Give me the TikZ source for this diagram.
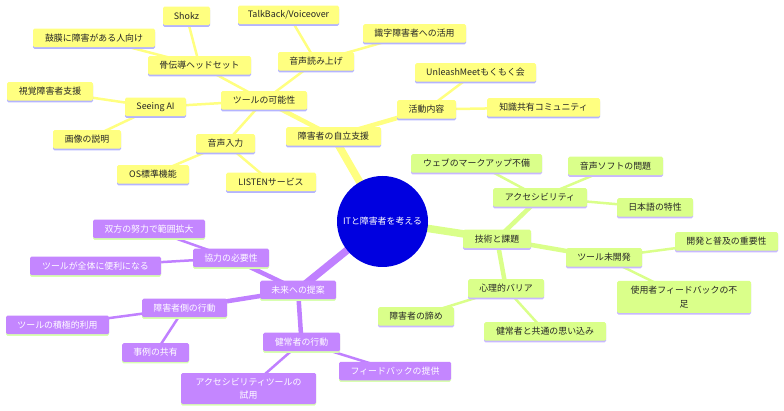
\documentclass[tikz,border=0pt]{standalone}
\usepackage{fontspec}
\setmainfont{Noto Sans CJK JP}
\usetikzlibrary{shadows,backgrounds}
\definecolor{yfill}{HTML}{FFFF80}
\definecolor{yshad}{HTML}{B4B4FF}
\definecolor{gfill}{HTML}{DAFF8A}
\definecolor{gshad}{HTML}{C8B8FF}
\definecolor{pfill}{HTML}{C486FF}
\definecolor{pshad}{HTML}{D8FFB0}
\definecolor{cblue}{HTML}{0000E0}
\definecolor{yedge}{HTML}{FFFF80}
\definecolor{gedge}{HTML}{DAFF8A}
\definecolor{pedge}{HTML}{C080FF}
\tikzset{
 mnode/.style={rounded corners=1.5pt, inner sep=0pt, minimum height=18.5pt,
   font=\fontsize{8.9}{13.3}\selectfont, align=center},
 ybox/.style={mnode, fill=yfill, text=black!85, general shadow={fill=yshad, shadow yshift=-1.6pt}},
 gbox/.style={mnode, fill=gfill, text=black!85, general shadow={fill=gshad, shadow yshift=-1.6pt}},
 pbox/.style={mnode, fill=pfill, text=white, general shadow={fill=pshad, shadow yshift=-1.6pt}},
 hub/.style={circle, fill=cblue, text=white, minimum size=91pt, inner sep=0pt,
   font=\fontsize{8.9}{10}\selectfont},
 e1/.style={line width=7.5pt},
 e2/.style={line width=4.5pt},
 e3/.style={line width=2.5pt},
}
\begin{document}
\begin{tikzpicture}[x=1pt,y=-1pt]
\useasboundingbox (0,0) rectangle (784,411);
% hub
\node[hub] (c) at (382.5,221.5) {ITと障害者を考える};
% yellow
\node[ybox, minimum width=95] (auto) at (333.5,136.5) {障害者の自立支援};
\node[ybox, minimum width=86] (tool) at (264,100.5) {ツールの可能性};
\node[ybox, minimum width=59] (act) at (426.5,109.5) {活動内容};
\node[ybox, minimum width=103] (bone) at (199.5,65.5) {骨伝導ヘッドセット};
\node[ybox, minimum width=76] (voice) at (316,61.5) {音声読み上げ};
\node[ybox, minimum width=61] (seeing) at (155.5,107) {Seeing AI};
\node[ybox, minimum width=59] (vin) at (225.5,143.5) {音声入力};
\node[ybox, minimum width=47] (shokz) at (186.5,16) {Shokz};
\node[ybox, minimum width=122] (komaku) at (94,38) {鼓膜に障害がある人向け};
\node[ybox, minimum width=101] (talk) at (288.5,15) {TalkBack/Voiceover};
\node[ybox, minimum width=103] (shiki) at (414.5,33.5) {識字障害者への活用};
\node[ybox, minimum width=86] (shikaku) at (50,91.5) {視覚障害者支援};
\node[ybox, minimum width=68] (gazo) at (87,139.5) {画像の説明};
\node[ybox, minimum width=72] (os) at (153,174.5) {OS標準機能};
\node[ybox, minimum width=90] (listen) at (271,182) {LISTENサービス};
\node[ybox, minimum width=121] (unleash) at (475.5,72.5) {UnleashMeetもくもく会};
\node[ybox, minimum width=113] (chishiki) at (543.5,107.5) {知識共有コミュニティ};
% green
\node[gbox, minimum width=68] (tech) at (497,239) {技術と課題};
\node[gbox, minimum width=94] (acc) at (540,197.5) {アクセシビリティ};
\node[gbox, minimum width=76] (toolun) at (604,257.5) {ツール未開発};
\node[gbox, minimum width=76] (psy) at (506,288.5) {心理的バリア};
\node[gbox, minimum width=131] (web) at (476.5,163.5) {ウェブのマークアップ不備};
\node[gbox, minimum width=95] (onsei) at (615.5,166) {音声ソフトの問題};
\node[gbox, minimum width=76] (nihongo) at (655,207.5) {日本語の特性};
\node[gbox, minimum width=103] (kaihatsu) at (726.5,241.5) {開発と普及の重要性};
\node[gbox, minimum width=134, minimum height=32] (shiyou) at (684,297) {使用者フィードバックの不\\足};
\node[gbox, minimum width=76] (akirame) at (416,316.5) {障害者の諦め};
\node[gbox, minimum width=122] (kenjo) at (545,331.5) {健常者と共通の思い込み};
% purple
\node[pbox, minimum width=76] (mirai) at (298,290) {未来への提案};
\node[pbox, minimum width=76] (kyou) at (231,258) {協力の必要性};
\node[pbox, minimum width=85] (shogai) at (184.5,308) {障害者側の行動};
\node[pbox, minimum width=77] (kenk) at (301.5,342) {健常者の行動};
\node[pbox, minimum width=112] (souhou) at (149,229) {双方の努力で範囲拡大};
\node[pbox, minimum width=131] (zentai) at (95.5,266) {ツールが全体に便利になる};
\node[pbox, minimum width=103] (sekkyoku) at (57.5,325) {ツールの積極的利用};
\node[pbox, minimum width=67] (jirei) at (155.5,352.5) {事例の共有};
\node[pbox, minimum width=112] (fb) at (395,371) {フィードバックの提供};
\node[pbox, minimum width=135, minimum height=31] (tryuse) at (248.5,388.5) {アクセシビリティツールの\\試用};
% edges
\begin{scope}[on background layer]
 \begin{scope}[draw=yedge]
  \draw[e1] (c.center) -- (auto.center);
  \draw[e2] (auto.center) -- (tool.center);
  \draw[e2] (auto.center) -- (act.center);
  \draw[e3] (tool.center) -- (bone.center);
  \draw[e3] (tool.center) -- (voice.center);
  \draw[e3] (tool.center) -- (seeing.center);
  \draw[e3] (tool.center) -- (vin.center);
  \draw[e3] (bone.center) -- (shokz.center);
  \draw[e3] (bone.center) -- (komaku.center);
  \draw[e3] (voice.center) -- (talk.center);
  \draw[e3] (voice.center) -- (shiki.center);
  \draw[e3] (seeing.center) -- (shikaku.center);
  \draw[e3] (seeing.center) -- (gazo.center);
  \draw[e3] (vin.center) -- (os.center);
  \draw[e3] (vin.center) -- (listen.center);
  \draw[e3] (act.center) -- (unleash.center);
  \draw[e3] (act.center) -- (chishiki.center);
 \end{scope}
 \begin{scope}[draw=gedge]
  \draw[e1] (c.center) -- (tech.center);
  \draw[e2] (tech.center) -- (acc.center);
  \draw[e2] (tech.center) -- (toolun.center);
  \draw[e2] (tech.center) -- (psy.center);
  \draw[e3] (acc.center) -- (web.center);
  \draw[e3] (acc.center) -- (onsei.center);
  \draw[e3] (acc.center) -- (nihongo.center);
  \draw[e3] (toolun.center) -- (kaihatsu.center);
  \draw[e3] (toolun.center) -- (shiyou.center);
  \draw[e3] (psy.center) -- (akirame.center);
  \draw[e3] (psy.center) -- (kenjo.center);
 \end{scope}
 \begin{scope}[draw=pedge]
  \draw[e1] (c.center) -- (mirai.center);
  \draw[e2] (mirai.center) -- (kyou.center);
  \draw[e2] (mirai.center) -- (shogai.center);
  \draw[e2] (mirai.center) -- (kenk.center);
  \draw[e3] (kyou.center) -- (souhou.center);
  \draw[e3] (kyou.center) -- (zentai.center);
  \draw[e3] (shogai.center) -- (sekkyoku.center);
  \draw[e3] (shogai.center) -- (jirei.center);
  \draw[e3] (kenk.center) -- (fb.center);
  \draw[e3] (kenk.center) -- (tryuse.center);
 \end{scope}
\end{scope}
\end{tikzpicture}
\end{document}
